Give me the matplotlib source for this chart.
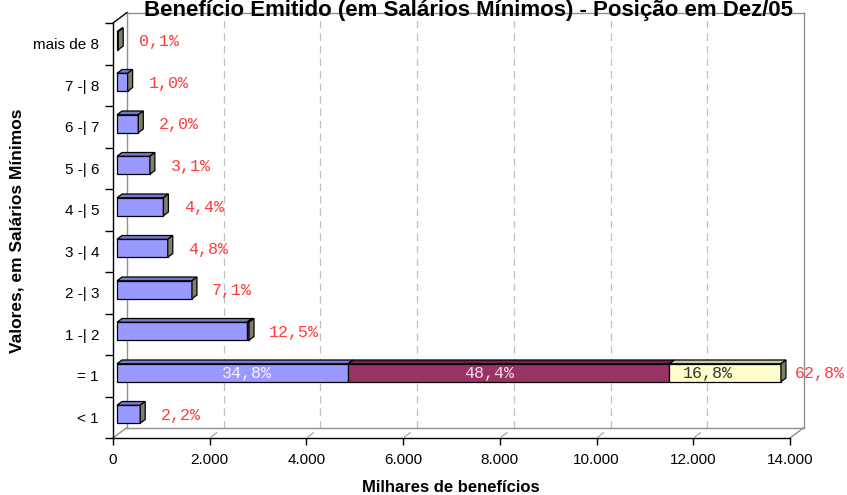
import matplotlib
matplotlib.use("Agg")
import matplotlib.pyplot as plt
from matplotlib.patches import Polygon
from matplotlib.lines import Line2D
import matplotlib.transforms as mtransforms

# ---------------- data ----------------
categories = ['< 1', '= 1', '1 -| 2', '2 -| 3', '3 -| 4', '4 -| 5',
              '5 -| 6', '6 -| 7', '7 -| 8', 'mais de 8']
blue = [480, 4780, 2685, 1550, 1050, 960, 680, 440, 220, 25]
maroon = [0, 6645, 45, 0, 0, 0, 0, 0, 0, 0]
yellow = [0, 2305, 0, 0, 0, 0, 0, 0, 0, 0]
total_labels = ['2,2%', '62,8%', '12,5%', '7,1%', '4,8%', '4,4%',
                '3,1%', '2,0%', '1,0%', '0,1%']
split_labels = ['34,8%', '48,4%', '16,8%']
xticks = [0, 2000, 4000, 6000, 8000, 10000, 12000, 14000]
xtick_labels = ['0', '2.000', '4.000', '6.000', '8.000', '10.000', '12.000', '14.000']
title = 'Benefício Emitido (em Salários Mínimos) - Posição em Dez/05'
xlabel = 'Milhares de benefícios'
ylabel = 'Valores, em Salários Mínimos'

# ---------------- style ----------------
W, H, DPI = 847, 495, 100
SANS = ['Liberation Sans', 'DejaVu Sans']
MONO = ['Liberation Mono', 'DejaVu Sans Mono']
plt.rcParams['font.family'] = SANS

C_BLUE, C_BLUE_TOP = '#9999FF', '#7777CC'
C_MAR, C_MAR_TOP = '#993366', '#6E2449'
C_YEL, C_YEL_TOP = '#FFFFCC', '#CCCCA0'
C_SIDE = '#808066'
C_RED = '#FF3B3B'

fig = plt.figure(figsize=(W / DPI, H / DPI), dpi=DPI)
ax = fig.add_axes([113 / W, 57 / H, 677 / W, 415 / H])
ax.set_xlim(0, 14000)
ax.set_ylim(0, len(categories))
for s in ('top', 'right'):
    ax.spines[s].set_visible(False)
for s in ('left', 'bottom'):
    ax.spines[s].set_color('black')
    ax.spines[s].set_linewidth(1.0)
ax.set_xticks(xticks)
ax.set_xticklabels(xtick_labels, fontsize=11)
ax.set_yticks(range(len(categories) + 1))
ax.set_yticklabels([])
ax.set_yticks([i + 0.5 for i in range(len(categories))], minor=True)
ax.set_yticklabels(categories, minor=True, fontsize=11)
ax.tick_params(axis='y', which='major', length=6, width=1.0, direction='out')
ax.tick_params(axis='y', which='minor', length=0, pad=10)
ax.tick_params(axis='x', length=5, width=1.0, direction='out', pad=6)
ax.patch.set_visible(False)

# depth projection (pixels for full depth)
DX, DY = 14.0, 10.5
IDT = mtransforms.IdentityTransform()


def P(x, y, d):
    px, py = ax.transData.transform((x, y))
    return (px + d * DX, py + d * DY)


def line(p, q, **kw):
    ax.add_line(Line2D([p[0], q[0]], [p[1], q[1]], transform=IDT, clip_on=False, **kw))


def poly(pts, fc, zorder=3):
    ax.add_patch(Polygon(pts, closed=True, facecolor=fc, edgecolor='black',
                         linewidth=0.9, transform=IDT, clip_on=False,
                         zorder=zorder, joinstyle='miter'))


xmax = xticks[-1]
ntop = len(categories)
# back wall gridlines
for x in xticks[1:-1]:
    line(P(x, 0, 1), P(x, ntop, 1), color='#C0C0C0', lw=0.9,
         linestyle=(0, (6, 4)), zorder=1)
# back wall outline
wall_c = '#909090'
line(P(0, 0, 1), P(xmax, 0, 1), color=wall_c, lw=1.0, zorder=1)
line(P(xmax, 0, 1), P(xmax, ntop, 1), color=wall_c, lw=1.0, zorder=1)
line(P(0, ntop, 1), P(xmax, ntop, 1), color=wall_c, lw=1.0, zorder=1)
line(P(0, 0, 1), P(0, ntop, 1), color=wall_c, lw=1.0, zorder=1)
line(P(0, 0, 0), P(0, 0, 1), color=wall_c, lw=1.0, zorder=1)
line(P(xmax, 0, 0), P(xmax, 0, 1), color=wall_c, lw=1.0, zorder=1)
line(P(0, ntop, 0), P(0, ntop, 1), color='black', lw=1.0, zorder=1)
for x in xticks[1:-1]:
    line(P(x, 0, 0.1), P(x, 0, 0.5), color='#A8A8A8', lw=0.9, zorder=1)

# bars
D0, D1 = 4 / 14, 9 / 14
HB = 18 / 41.5
vmax = max(b + m + y for b, m, y in zip(blue, maroon, yellow))
for i in range(len(categories)):
    yb = i + 0.5 - HB / 2
    yt = i + 0.5 + HB / 2
    x0 = 0
    segs = [(blue[i], C_BLUE, C_BLUE_TOP), (maroon[i], C_MAR, C_MAR_TOP),
            (yellow[i], C_YEL, C_YEL_TOP)]
    for v, fc, tc in segs:
        if v <= 0:
            continue
        x1 = x0 + v
        poly([P(x0, yb, D0), P(x1, yb, D0), P(x1, yt, D0), P(x0, yt, D0)], fc)
        poly([P(x0, yt, D0), P(x1, yt, D0), P(x1, yt, D1), P(x0, yt, D1)], tc)
        x0 = x1
    poly([P(x0, yb, D0), P(x0, yt, D0), P(x0, yt, D1), P(x0, yb, D1)], C_SIDE)
    # total share label
    gap = 21 - 7 * x0 / vmax
    px, py = P(x0, i + 0.5, D0)
    ax.text(px + gap, py - 1, total_labels[i], transform=IDT, ha='left',
            va='center', color=C_RED, fontsize=12, family=MONO, clip_on=False)

# split labels on the "= 1" bar
k = categories.index('= 1')
parts = [blue[k], maroon[k], yellow[k]]
cols = ['#F4F4FF', '#F0DDE8', '#333333']
shifts = [14, -20, -17]
x0 = 0
for v, lab, c, sh in zip(parts, split_labels, cols, shifts):
    px, py = P(x0 + v / 2, k + 0.5, D0)
    ax.text(px + sh, py - 1, lab, transform=IDT, ha='center', va='center',
            color=c, fontsize=12, family=MONO, clip_on=False, zorder=5)
    x0 += v

fig.text(468 / W, 1 - 16 / H, title, ha='center', va='baseline',
         fontsize=16, fontweight='bold')
fig.text(451 / W, 1 - 487 / H, xlabel, ha='center', va='center',
         fontsize=12, fontweight='bold')
fig.text(17 / W, 1 - 231 / H, ylabel, ha='center', va='center',
         rotation=90, fontsize=12.5, fontweight='bold')

fig.savefig('out.png', dpi=DPI)
